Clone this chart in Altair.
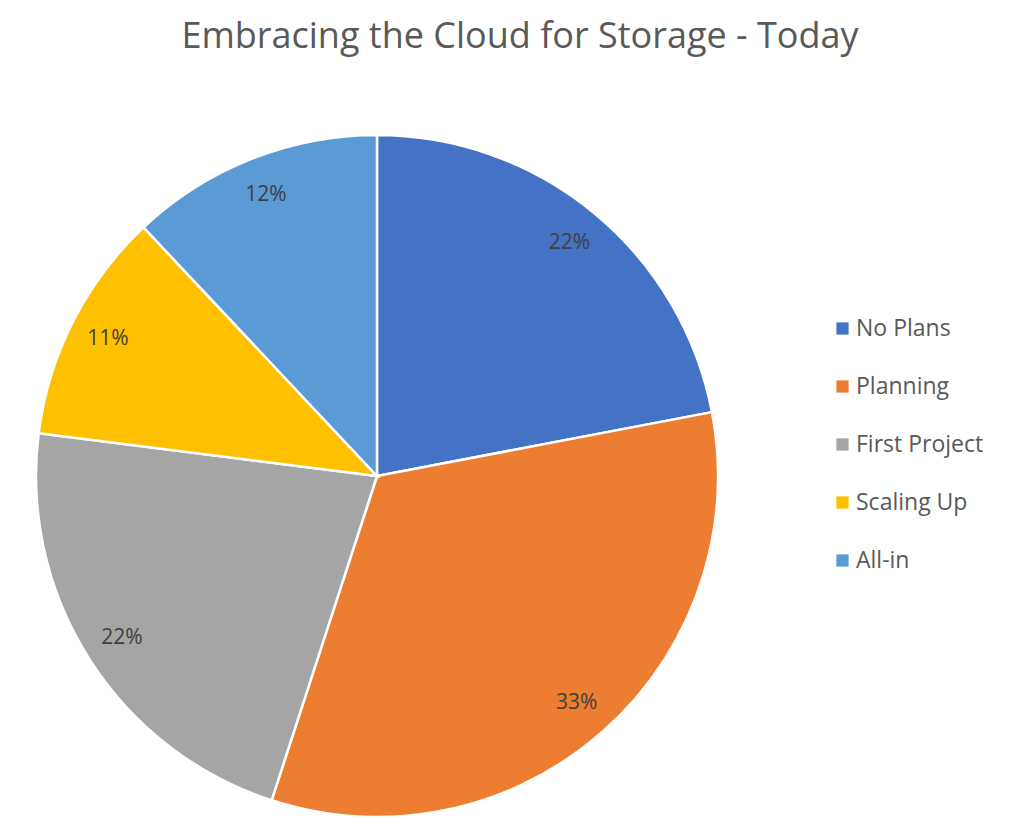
import altair as alt
import pandas as pd

categories = ["No Plans", "Planning", "First Project", "Scaling Up", "All-in"]
values = [22, 33, 22, 11, 12]
colors = ["#4472C4", "#ED7D31", "#A5A5A5", "#FFC000", "#5B9BD5"]
title_text = "Embracing the Cloud for Storage - Today"

df = pd.DataFrame({
    "category": categories,
    "value": values,
    "order": list(range(len(categories))),
    "label": [f"{v}%" for v in values],
})

FONT = "Open Sans"

base = alt.Chart(df).encode(
    theta=alt.Theta("value:Q", stack=True),
    order=alt.Order("order:Q"),
)

pie = base.mark_arc(outerRadius=341, stroke="white", strokeWidth=2.5).encode(
    x=alt.value(369),
    y=alt.value(468),
    color=alt.Color(
        "category:N",
        scale=alt.Scale(domain=categories, range=colors),
        sort=categories,
        legend=alt.Legend(
            title=None,
            orient="none",
            legendX=823,
            legendY=309,
            symbolType="square",
            symbolSize=150,
            symbolStrokeWidth=0,
            labelFont=FONT,
            labelFontSize=23,
            labelColor="#595959",
            labelOffset=2,
            rowPadding=34,
            labelLimit=300,
        ),
    ),
)

labels = base.mark_text(
    radius=302, font=FONT, fontSize=21, color="#404040"
).encode(
    x=alt.value(369),
    y=alt.value(468),
    text="label:N",
)

title_df = pd.DataFrame({"t": [title_text]})
title = alt.Chart(title_df).mark_text(
    font=FONT, fontSize=36, color="#595959", baseline="alphabetic", align="center"
).encode(
    x=alt.value(512),
    y=alt.value(40),
    text="t:N",
)

chart = alt.layer(pie, labels, title).properties(
    width=1008, height=824, padding=0, autosize="none"
).configure_view(stroke=None)

chart.save("out.html", embed_options={"renderer": "svg", "actions": False})
